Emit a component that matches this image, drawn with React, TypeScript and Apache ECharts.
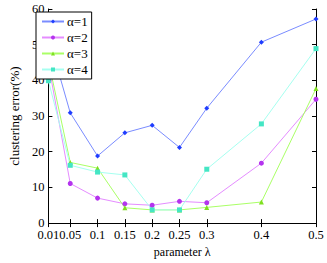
import React, { useEffect, useRef } from "react";
import * as echarts from "echarts";

const lambdas = [0.01, 0.05, 0.1, 0.15, 0.2, 0.25, 0.3, 0.4, 0.5];
const xTickLabels = ["0.01", "0.05", "0.1", "0.15", "0.2", "0.25", "0.3", "0.4", "0.5"];
const seriesNames = ["α=1", "α=2", "α=3", "α=4"];
const alpha1 = [52.3, 30.9, 18.8, 25.3, 27.4, 21.2, 32.2, 50.7, 57.2];
const alpha2 = [44.7, 11.1, 7.0, 5.4, 5.0, 6.1, 5.7, 16.8, 34.7];
const alpha3 = [45.5, 17.0, 15.4, 4.3, 3.7, 3.7, 4.4, 5.9, 37.7];
const alpha4 = [39.9, 16.2, 14.3, 13.5, 3.7, 3.7, 15.1, 27.8, 48.9];

const lineColors = ["#7a8cff", "#e58cff", "#aaff66", "#a6fff0"];
const markColors = ["#1f3dff", "#b433ee", "#7fe01f", "#44e6c4"];
const symbols = ["diamond", "circle", "triangle", "rect"];
const FONT = "Liberation Serif";

export default function App() {
  const ref = useRef<HTMLDivElement>(null);
  useEffect(() => {
    const chart = echarts.init(ref.current!, null, { renderer: "svg" });
    const all = [alpha1, alpha2, alpha3, alpha4];
    const common = {
      type: "value",
      min: 0.01,
      max: 0.5,
      axisLine: { show: true, lineStyle: { color: "#000", width: 1 } },
      splitLine: { show: false },
      axisTick: {
        show: true,
        inside: true,
        length: 4,
        customValues: lambdas,
        lineStyle: { color: "#000" },
      },
    };
    chart.setOption({
      animation: false,
      backgroundColor: "#fff",
      grid: { left: 33, right: 11, top: 9, bottom: 31, containLabel: false },
      xAxis: [
        {
          ...common,
          position: "bottom",
          name: "parameter λ",
          nameLocation: "middle",
          nameGap: 22,
          nameTextStyle: { fontFamily: FONT, fontSize: 12, color: "#000" },
          axisLabel: {
            show: true,
            customValues: lambdas,
            hideOverlap: false,
            showMinLabel: true,
            showMaxLabel: true,
            formatter: (v: number) => xTickLabels[lambdas.findIndex((l) => Math.abs(l - v) < 1e-6)] ?? "",
            fontFamily: FONT,
            fontSize: 12.5,
            color: "#000",
            margin: 6,
            lineHeight: 11,
          },
        },
        {
          ...common,
          position: "top",
          axisLabel: { show: false },
        },
      ],
      yAxis: [
        {
          type: "value",
          min: 0,
          max: 60,
          interval: 10,
          position: "left",
          name: "clustering error(%)",
          nameLocation: "middle",
          nameGap: 22,
          nameTextStyle: { fontFamily: FONT, fontSize: 13, color: "#000" },
          axisLine: { show: true, lineStyle: { color: "#000" } },
          axisTick: { show: true, inside: true, length: 4, lineStyle: { color: "#000" } },
          splitLine: { show: false },
          axisLabel: {
            fontFamily: FONT,
            fontSize: 12.5,
            color: "#000",
            margin: 4,
            hideOverlap: false,
            showMinLabel: true,
            showMaxLabel: true,
            lineHeight: 9,
          },
        },
        {
          type: "value",
          min: 0,
          max: 60,
          interval: 10,
          position: "right",
          axisLine: { show: true, lineStyle: { color: "#000" } },
          axisTick: { show: true, inside: true, length: 4, lineStyle: { color: "#000" } },
          splitLine: { show: false },
          axisLabel: { show: false },
        },
      ],
      legend: {
        left: 36,
        top: 12,
        orient: "vertical",
        backgroundColor: "#fff",
        borderColor: "#000",
        borderWidth: 1,
        borderRadius: 0,
        padding: [3, 4, 3, 5],
        itemGap: 3,
        itemWidth: 22,
        itemHeight: 5,
        textStyle: { fontFamily: FONT, fontSize: 13, color: "#000", padding: [0, 0, 0, -2], lineHeight: 13 },
        data: seriesNames,
      },
      series: all.map((arr, i) => ({
        name: seriesNames[i],
        type: "line",
        data: arr.map((v, j) => [lambdas[j], v]),
        symbol: symbols[i],
        symbolSize: 5,
        showSymbol: true,
        lineStyle: { color: lineColors[i], width: 1 },
        itemStyle: { color: markColors[i], borderWidth: 0 },
        clip: false,
      })),
    });
    return () => chart.dispose();
  }, []);
  return (
    <div
      ref={ref}
      style={{ position: "absolute", left: 0, top: 0, width: 327, height: 263 }}
    />
  );
}
